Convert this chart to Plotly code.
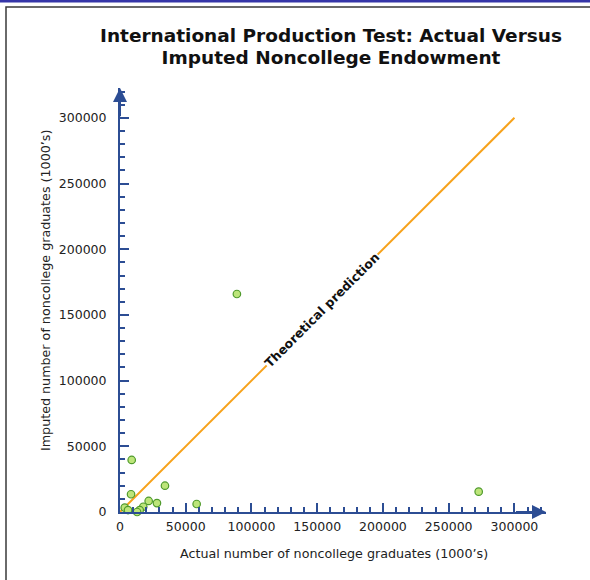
import plotly.graph_objects as go

# Data (thousands of people)
actual = [88900, 272800, 8900, 8400, 34200, 58300, 21800, 28100,
          17700, 15000, 13000, 3600, 6100]
imputed = [165900, 15500, 39600, 13500, 20000, 6100, 8400, 6800,
           4000, 1500, 0, 3300, 1500]
prediction_x = [0, 300000]
prediction_y = [0, 300000]
tick_vals = [0, 50000, 100000, 150000, 200000, 250000, 300000]

title_lines = ["International Production Test: Actual Versus",
               "Imputed Noncollege Endowment"]

AXIS = "#2c4d94"
FONT = "DejaVu Sans, Verdana, sans-serif"

# plot area in pixels: x 120..546, y 88..512
L, T, W, H = 120, 88, 426, 424


def px_x(p):
    return (p - L) / W


def px_y(p):
    return (T + H - p) / H


fig = go.Figure()
fig.add_trace(go.Scatter(
    x=prediction_x, y=prediction_y, mode="lines",
    line=dict(color="#f7a21b", width=2), hoverinfo="skip",
))
fig.add_trace(go.Scatter(
    x=actual, y=imputed, mode="markers", cliponaxis=False,
    marker=dict(size=7.5, color="#bde57a", line=dict(color="#4f9a2c", width=1.2)),
))

axis_common = dict(
    tickvals=tick_vals, tickformat="d", showgrid=False, zeroline=False,
    showline=True, linecolor=AXIS, linewidth=2,
    ticks="inside", ticklen=9, tickwidth=2, tickcolor=AXIS,
    minor=dict(ticks="inside", dtick=10000, ticklen=5, tickwidth=1.5, tickcolor=AXIS),
    tickfont=dict(size=12.5, color="#222222", family=FONT),
)

fig.update_layout(
    width=590, height=580,
    margin=dict(l=L, r=590 - L - W, t=T, b=580 - T - H),
    paper_bgcolor="white", plot_bgcolor="white",
    showlegend=False,
    font=dict(family=FONT, color="#222222"),
    xaxis=dict(range=[0, 324000], ticklabelstandoff=2, **axis_common),
    yaxis=dict(range=[0, 322700], ticklabelstandoff=9, **axis_common),
)

# title: one text, base size sets a tight line spacing
title_html = "<br>".join(
    f"<span style='font-size:18.5px'><b>{line}</b></span>" for line in title_lines
)
fig.add_annotation(x=px_x(331), y=px_y(46.5), xref="paper", yref="paper",
                   xanchor="center", yanchor="middle", showarrow=False,
                   text=title_html,
                   font=dict(size=17, color="#111111", family=FONT))

# axis arrows
fig.add_annotation(x=324000, y=0, ax=300000, ay=0, xref="x", yref="y",
                   axref="x", ayref="y", showarrow=True, arrowhead=2,
                   arrowsize=1.4, arrowwidth=2, arrowcolor=AXIS, text="")
fig.add_annotation(x=0, y=322700, ax=0, ay=300000, xref="x", yref="y",
                   axref="x", ayref="y", showarrow=True, arrowhead=2,
                   arrowsize=1.4, arrowwidth=2, arrowcolor=AXIS, text="")

# line label
fig.add_annotation(x=154000, y=154000, xref="x", yref="y", showarrow=False,
                   text="<b>Theoretical prediction</b>", textangle=-45,
                   bgcolor="white", borderpad=0,
                   font=dict(size=12.5, color="#111111", family=FONT))

# axis titles
fig.add_annotation(x=px_x(334), y=px_y(553), xref="paper", yref="paper",
                   xanchor="center", yanchor="middle",
                   showarrow=False, text="Actual number of noncollege graduates (1000’s)",
                   font=dict(size=12.7, color="#222222", family=FONT))
fig.add_annotation(x=px_x(45), y=px_y(291), xref="paper", yref="paper",
                   xanchor="center", yanchor="middle",
                   showarrow=False, textangle=-90,
                   text="Imputed number of noncollege graduates (1000’s)",
                   font=dict(size=12.7, color="#222222", family=FONT))

# frame and top bar
fig.add_shape(type="rect", xref="paper", yref="paper",
              x0=px_x(6), x1=px_x(600), y0=px_y(600), y1=px_y(7),
              line=dict(color="#3a3a3a", width=1.5), fillcolor="rgba(0,0,0,0)", layer="below")
fig.add_shape(type="rect", xref="paper", yref="paper",
              x0=px_x(-5), x1=px_x(600), y0=px_y(2.5), y1=px_y(-1),
              line=dict(width=0), fillcolor="#3535a8", layer="below")

fig.write_html("out.html", config={"displayModeBar": False},
               post_script="document.body.style.margin='0';")
